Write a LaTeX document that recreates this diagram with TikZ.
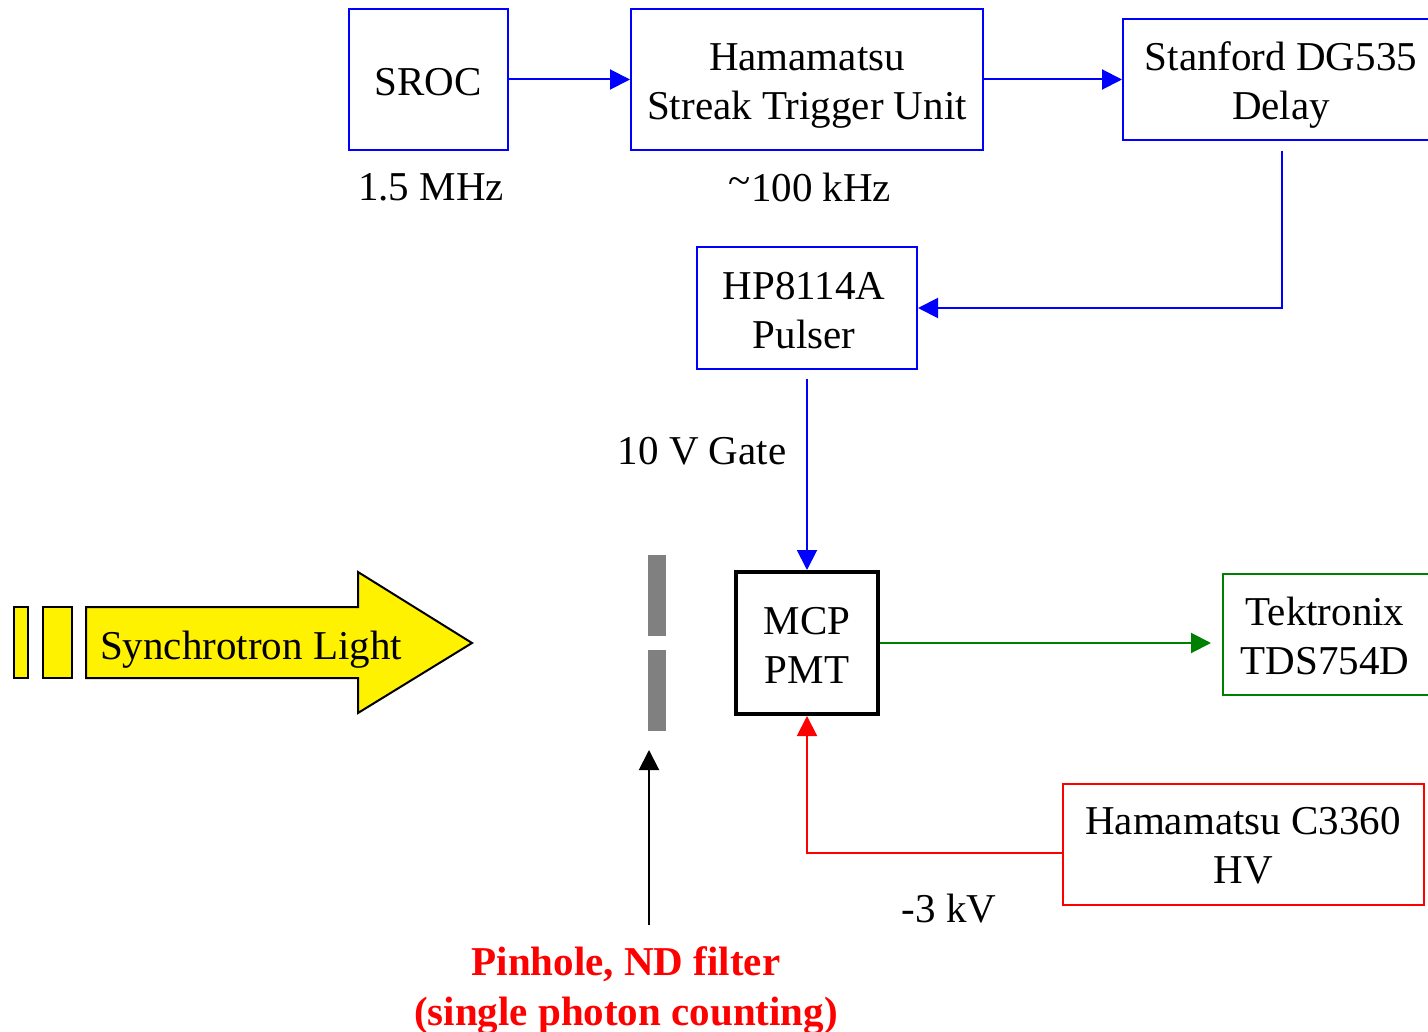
\documentclass[tikz,border=0pt]{standalone}
\usepackage{fontspec}
\setmainfont{Liberation Serif}
\usetikzlibrary{arrows.meta}
\begin{document}
\begin{tikzpicture}[x=1pt,y=-1pt,
 box/.style={draw, rectangle, line width=2pt, inner sep=0pt},
 lbl/.style={inner sep=0pt, align=center, font=\fontsize{41}{49}\selectfont},
 arr/.style={line width=2pt, -{Triangle[length=20pt,width=20pt]}}]
\useasboundingbox (0,0) rectangle (1428,1032);
% boxes
\node[box, draw=blue, minimum width=159pt, minimum height=141pt] (sroc) at (428.5,79.5) {};
\node[box, draw=blue, minimum width=352pt, minimum height=141pt] (stu) at (807,79.5) {};
\node[box, draw=blue, minimum width=318pt, minimum height=121pt] (stan) at (1282,79.5) {};
\node[box, draw=blue, minimum width=220pt, minimum height=122pt] (hp) at (807,308) {};
\node[box, draw=black, line width=4pt, minimum width=142pt, minimum height=142pt] (mcp) at (807,643) {};
\node[box, draw=green!50!black, minimum width=218pt, minimum height=121pt] (tek) at (1332,634.5) {};
\node[box, draw=red, minimum width=361pt, minimum height=121pt] (hv) at (1243.5,844.5) {};
% box texts
\node[lbl] (sroc-t) at (428,82) {SROC};
\node[lbl] (stu-t) at (807,86) {Hamamatsu\\Streak Trigger Unit};
\node[lbl] (stan-t) at (1281,85) {Stanford DG535\\Delay};
\node[lbl] (hp-t) at (804,310.5) {HP8114A\\Pulser};
\node[lbl] (mcp-t) at (807,645) {MCP\\PMT};
\node[lbl] (tek-t) at (1325,635.5) {Tektronix\\TDS754D};
\node[lbl] (hv-t) at (1243,846) {Hamamatsu C3360\\HV};
% labels
\node[lbl] (l1) at (431,187) {1.5 MHz};
\node[lbl] (l2) at (810,187) {\raisebox{0.15em}{\char`~}100 kHz};
\node[lbl] (l3) at (702,451) {10 V Gate};
\node[lbl] (l4) at (949,909) {-3 kV};
\node[lbl, text=red, font=\fontsize{41}{50}\selectfont\bfseries] (pin) at (626,991) {Pinhole, ND filter\\(single photon counting)};
% connectors
\draw[arr, blue] (sroc.east) -- (stu.west);
\draw[arr, blue] (stu.east) -- (stan.west);
\draw[arr, blue, shorten <=10pt] (stan.south) |- (hp.east);
\draw[arr, blue, shorten <=9pt] (hp.south) -- (mcp.north);
\draw[arr, green!50!black, shorten >=11pt] (mcp.east) -- (tek.west |- mcp.east);
\draw[arr, red] ([yshift=-8.5pt]hv.west) -| (mcp.south);
% pinhole
\fill[gray] (648,555) rectangle (666,636);
\fill[gray] (648,650) rectangle (666,731);
\coordinate (pa) at (649,925);
\coordinate (pb) at (649,750);
\draw[arr, black] (pa) -- (pb);
% synchrotron light
\draw[line width=2pt, fill=yellow] (14,607) rectangle (28,678);
\draw[line width=2pt, fill=yellow] (43,607) rectangle (72,678);
\draw[line width=2pt, fill=yellow, line join=miter] (86,607) -- (358,607) -- (358,572) -- (472,643) -- (358,713) -- (358,678) -- (86,678) -- cycle;
\node[lbl, anchor=base west] (syn) at (100,659) {Synchrotron Light};
\end{tikzpicture}
\end{document}
